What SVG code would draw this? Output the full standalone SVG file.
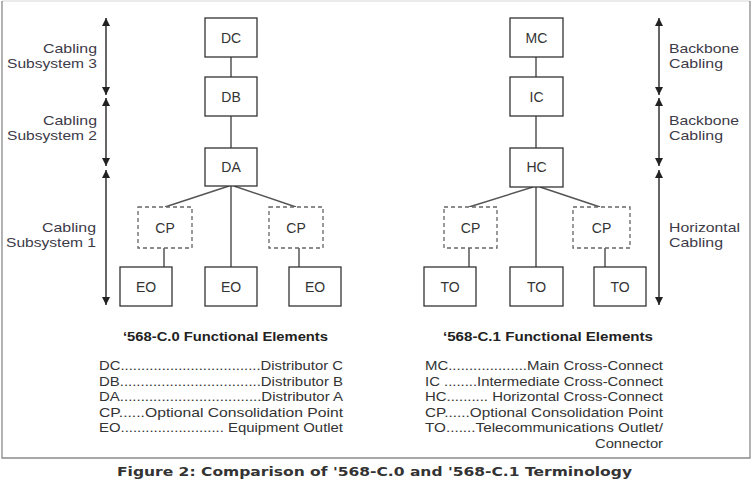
<svg xmlns="http://www.w3.org/2000/svg" width="752" height="484" viewBox="0 0 752 484">
<style>
  .box{fill:#fff;stroke:#333;stroke-width:1.3}
  .dash{fill:#fff;stroke:#666;stroke-width:1.3;stroke-dasharray:4 3}
  .ln{stroke:#555;stroke-width:1.5;fill:none}
  .arr{stroke:#333;stroke-width:1.5;fill:none;marker-start:url(#ah);marker-end:url(#ah)}
  .lbl{font-family:"Liberation Sans",Arial,sans-serif;font-size:14px;fill:#333;text-anchor:middle}
  .side{font-family:"Liberation Sans",Arial,sans-serif;font-size:13.5px;fill:#3d3a48}
  .leg{font-family:"Liberation Sans",Arial,sans-serif;font-size:13px;fill:#333}
  .head{font-family:"Liberation Sans",Arial,sans-serif;font-size:13px;font-weight:bold;fill:#222}
  .cap{font-family:"DejaVu Sans",Verdana,sans-serif;font-size:12.5px;font-weight:bold;fill:#333}
</style>
<defs>
  <marker id="ah" viewBox="0 0 10 10" refX="10" refY="5" markerWidth="8" markerHeight="9" markerUnits="userSpaceOnUse" orient="auto-start-reverse">
    <path d="M0,0 L10,5 L0,10 z" fill="#222"/>
  </marker>
</defs>
<rect width="752" height="484" fill="#fff"/>
<g id="frame">
  <path d="M2,1 H750" stroke="#d8d8d8" stroke-width="1.2" fill="none"/>
  <path d="M2,1 V458 H750 V1" stroke="#8a8a8a" stroke-width="1.3" fill="none"/>
</g>

<g id="connectors">
  <line class="ln" x1="231" y1="57" x2="231" y2="77"/>
  <line class="ln" x1="231" y1="116" x2="231" y2="148"/>
  <line class="ln" x1="229" y1="186" x2="165" y2="207"/>
  <line class="ln" x1="231" y1="186" x2="231" y2="267"/>
  <line class="ln" x1="234" y1="186" x2="296" y2="207"/>
  <line class="ln" x1="164" y1="248" x2="164" y2="267"/>
  <line class="ln" x1="299" y1="248" x2="299" y2="267"/>
  <line class="ln" x1="536" y1="57" x2="536" y2="77"/>
  <line class="ln" x1="536" y1="116" x2="536" y2="148"/>
  <line class="ln" x1="533" y1="187" x2="469" y2="207"/>
  <line class="ln" x1="536" y1="187" x2="536" y2="267"/>
  <line class="ln" x1="540" y1="187" x2="600" y2="207"/>
  <line class="ln" x1="469" y1="248" x2="469" y2="267"/>
  <line class="ln" x1="605" y1="248" x2="605" y2="267"/>
  <line class="arr" x1="106" y1="18" x2="106" y2="95"/>
  <line class="arr" x1="106" y1="98" x2="106" y2="166"/>
  <line class="arr" x1="106" y1="170" x2="106" y2="305"/>
  <line class="arr" x1="659" y1="18" x2="659" y2="95"/>
  <line class="arr" x1="659" y1="98" x2="659" y2="166"/>
  <line class="arr" x1="659" y1="170" x2="659" y2="305"/>
</g>

<g id="DC"><rect class="box" x="205" y="18" width="52" height="39"/><text class="lbl" x="231" y="42.5">DC</text></g>
<g id="DB"><rect class="box" x="205" y="77" width="52" height="39"/><text class="lbl" x="231" y="101.5">DB</text></g>
<g id="DA"><rect class="box" x="205" y="148" width="52" height="38"/><text class="lbl" x="231" y="172">DA</text></g>
<g id="CP-left-A"><rect class="dash" x="138" y="207" width="54" height="41"/><text class="lbl" x="165" y="232.5">CP</text></g>
<g id="CP-right-A"><rect class="dash" x="269" y="207" width="54" height="41"/><text class="lbl" x="296" y="232.5">CP</text></g>
<g id="EO-1"><rect class="box" x="120" y="267" width="52" height="39"/><text class="lbl" x="146" y="291.5">EO</text></g>
<g id="EO-2"><rect class="box" x="205" y="267" width="52" height="39"/><text class="lbl" x="231" y="291.5">EO</text></g>
<g id="EO-3"><rect class="box" x="289" y="267" width="52" height="39"/><text class="lbl" x="315" y="291.5">EO</text></g>

<g id="MC"><rect class="box" x="510" y="18" width="53" height="39"/><text class="lbl" x="536.5" y="42.5">MC</text></g>
<g id="IC"><rect class="box" x="510" y="77" width="53" height="39"/><text class="lbl" x="536.5" y="101.5">IC</text></g>
<g id="HC"><rect class="box" x="510" y="148" width="53" height="39"/><text class="lbl" x="536.5" y="172">HC</text></g>
<g id="CP-left-B"><rect class="dash" x="444" y="207" width="53" height="41"/><text class="lbl" x="470.5" y="232.5">CP</text></g>
<g id="CP-right-B"><rect class="dash" x="573" y="207" width="57" height="41"/><text class="lbl" x="601.5" y="232.5">CP</text></g>
<g id="TO-1"><rect class="box" x="424" y="267" width="52" height="39"/><text class="lbl" x="450" y="291.5">TO</text></g>
<g id="TO-2"><rect class="box" x="510" y="267" width="53" height="39"/><text class="lbl" x="536.5" y="291.5">TO</text></g>
<g id="TO-3"><rect class="box" x="594" y="267" width="52" height="39"/><text class="lbl" x="620" y="291.5">TO</text></g>

<g id="side-labels">
  <text class="side" x="43" y="53" textLength="54" lengthAdjust="spacingAndGlyphs">Cabling</text>
  <text class="side" x="7" y="68" textLength="90" lengthAdjust="spacingAndGlyphs">Subsystem 3</text>
  <text class="side" x="43" y="125" textLength="54" lengthAdjust="spacingAndGlyphs">Cabling</text>
  <text class="side" x="7" y="140" textLength="90" lengthAdjust="spacingAndGlyphs">Subsystem 2</text>
  <text class="side" x="42" y="232" textLength="54" lengthAdjust="spacingAndGlyphs">Cabling</text>
  <text class="side" x="6" y="247" textLength="90" lengthAdjust="spacingAndGlyphs">Subsystem 1</text>
  <text class="side" x="669" y="53" textLength="70" lengthAdjust="spacingAndGlyphs">Backbone</text>
  <text class="side" x="669" y="68" textLength="54" lengthAdjust="spacingAndGlyphs">Cabling</text>
  <text class="side" x="669" y="125" textLength="70" lengthAdjust="spacingAndGlyphs">Backbone</text>
  <text class="side" x="669" y="140" textLength="54" lengthAdjust="spacingAndGlyphs">Cabling</text>
  <text class="side" x="669" y="232" textLength="71" lengthAdjust="spacingAndGlyphs">Horizontal</text>
  <text class="side" x="669" y="247" textLength="54" lengthAdjust="spacingAndGlyphs">Cabling</text>
</g>

<g id="legend-A">
  <text class="head" x="123" y="341" textLength="205" lengthAdjust="spacingAndGlyphs">‘568-C.0 Functional Elements</text>
  <text class="leg" x="99" y="370" textLength="244" lengthAdjust="spacingAndGlyphs">DC..................................Distributor C</text>
  <text class="leg" x="99" y="385.5" textLength="244" lengthAdjust="spacingAndGlyphs">DB..................................Distributor B</text>
  <text class="leg" x="99" y="401" textLength="244" lengthAdjust="spacingAndGlyphs">DA..................................Distributor A</text>
  <text class="leg" x="99" y="416.5" textLength="244" lengthAdjust="spacingAndGlyphs">CP......Optional Consolidation Point</text>
  <text class="leg" x="99" y="432" textLength="244" lengthAdjust="spacingAndGlyphs">EO......................... Equipment Outlet</text>
</g>

<g id="legend-B">
  <text class="head" x="443" y="341" textLength="210" lengthAdjust="spacingAndGlyphs">‘568-C.1 Functional Elements</text>
  <text class="leg" x="425" y="370" textLength="238" lengthAdjust="spacingAndGlyphs">MC...................Main Cross-Connect</text>
  <text class="leg" x="425" y="385.5" textLength="238" lengthAdjust="spacingAndGlyphs">IC ........Intermediate Cross-Connect</text>
  <text class="leg" x="425" y="401" textLength="238" lengthAdjust="spacingAndGlyphs">HC.......... Horizontal Cross-Connect</text>
  <text class="leg" x="425" y="416.5" textLength="238" lengthAdjust="spacingAndGlyphs">CP......Optional Consolidation Point</text>
  <text class="leg" x="425" y="432" textLength="238" lengthAdjust="spacingAndGlyphs">TO.......Telecommunications Outlet/</text>
  <text class="leg" x="595" y="447.5" textLength="68" lengthAdjust="spacingAndGlyphs">Connector</text>
</g>

<text class="cap" x="117" y="475.5" textLength="515" lengthAdjust="spacingAndGlyphs">Figure 2: Comparison of '568-C.0 and '568-C.1 Terminology</text>
</svg>
